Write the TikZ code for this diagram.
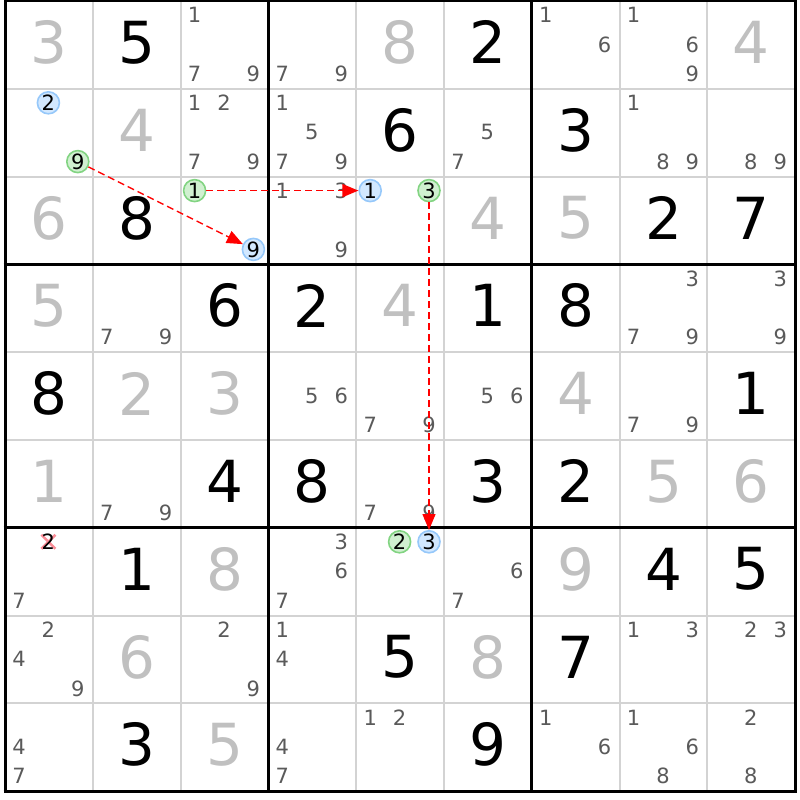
\documentclass[tikz,border=0pt]{standalone}
\usepackage{fontspec}
\setmainfont{DejaVu Sans}
\usepackage{xcolor}
\usepackage{tikz}
\usetikzlibrary{arrows.meta,calc}
\definecolor{solvedgray}{RGB}{192,192,192}
\definecolor{candgray}{RGB}{90,90,90}
\definecolor{gridgray}{RGB}{211,211,211}
\definecolor{blueline}{RGB}{150,200,250}
\definecolor{bluefill}{RGB}{210,232,255}
\definecolor{greenline}{RGB}{130,212,130}
\definecolor{greenfill}{RGB}{208,240,208}
\definecolor{crosspink}{RGB}{250,140,150}
\tikzstyle{given} = [font=\fontsize{58}{58}\selectfont, text=black, inner sep=0pt]
\tikzstyle{solved} = [given, text=solvedgray]
\tikzstyle{cand} = [font=\fontsize{21}{21}\selectfont, text=candgray, inner sep=0pt]
\tikzstyle{hlblue} = [cand, text=black, circle, draw=blueline, fill=bluefill,
    line width=1.6pt, minimum size=22pt]
\tikzstyle{hlgreen} = [hlblue, draw=greenline, fill=greenfill]
\tikzstyle{thingrid} = [gridgray, line width=2pt]
\tikzstyle{boxgrid} = [black, line width=3pt]
\tikzstyle{link} = [-{Triangle[length=16pt,width=13pt]}, red, line width=1.4pt,
    dash pattern=on 7pt off 4pt]
\newcommand{\givennum}[3]{\node[given] (r#1c#2) at ({5+(#2-0.5)*87.8},{1+(#1-0.5)*87.8-2.5}) {#3};}
\newcommand{\solvednum}[3]{\node[solved] (r#1c#2) at ({5+(#2-0.5)*87.8},{1+(#1-0.5)*87.8-2.5}) {#3};}
\newcommand{\candnums}[3]{\foreach \n in {#3}{\node[cand] (r#1c#2n\n) at ({5+(#2-1)*87.8+14+mod(\n-1,3)*29.4},{1+(#1-1)*87.8+14+floor((\n-1)/3)*29.4}) {\n};}}
\newcommand{\hicand}[4]{\node[#4] (r#1c#2n#3) at ({5+(#2-1)*87.8+14+mod(#3-1,3)*29.4},{1+(#1-1)*87.8+14+floor((#3-1)/3)*29.4}) {#3};}
\begin{document}
\begin{tikzpicture}[x=1pt,y=-1pt]
	\useasboundingbox (0,0) rectangle (800,800);
	\fill[white] (0,0) rectangle (800,800);
	
	\foreach \i in {1,2,4,5,7,8}{
		\draw[thingrid] ({5+\i*87.8},1) -- ({5+\i*87.8},{1+9*87.8});
		\draw[thingrid] (5,{1+\i*87.8}) -- ({5+9*87.8},{1+\i*87.8});
	}
	\foreach \i in {0,3,6,9}{
		\draw[boxgrid] ({5+\i*87.8},-0.5) -- ({5+\i*87.8},{2.5+9*87.8});
		\draw[boxgrid] (3.5,{1+\i*87.8}) -- ({6.5+9*87.8},{1+\i*87.8});
	}
	
	\solvednum{1}{1}{3} \givennum{1}{2}{5} \candnums{1}{3}{1,7,9}
	\candnums{1}{4}{7,9} \solvednum{1}{5}{8} \givennum{1}{6}{2}
	\candnums{1}{7}{1,6} \candnums{1}{8}{1,6,9} \solvednum{1}{9}{4}
	
	\hicand{2}{1}{2}{hlblue} \hicand{2}{1}{9}{hlgreen} \solvednum{2}{2}{4}
	\candnums{2}{3}{1,2,7,9} \candnums{2}{4}{1,5,7,9} \givennum{2}{5}{6}
	\candnums{2}{6}{5,7} \givennum{2}{7}{3} \candnums{2}{8}{1,8,9} \candnums{2}{9}{8,9}
	
	\solvednum{3}{1}{6} \givennum{3}{2}{8} \hicand{3}{3}{1}{hlgreen} \hicand{3}{3}{9}{hlblue}
	\candnums{3}{4}{1,3,9} \hicand{3}{5}{1}{hlblue} \hicand{3}{5}{3}{hlgreen}
	\solvednum{3}{6}{4} \solvednum{3}{7}{5} \givennum{3}{8}{2} \givennum{3}{9}{7}
	
	\solvednum{4}{1}{5} \candnums{4}{2}{7,9} \givennum{4}{3}{6}
	\givennum{4}{4}{2} \solvednum{4}{5}{4} \givennum{4}{6}{1}
	\givennum{4}{7}{8} \candnums{4}{8}{3,7,9} \candnums{4}{9}{3,9}
	
	\givennum{5}{1}{8} \solvednum{5}{2}{2} \solvednum{5}{3}{3}
	\candnums{5}{4}{5,6} \candnums{5}{5}{7,9} \candnums{5}{6}{5,6}
	\solvednum{5}{7}{4} \candnums{5}{8}{7,9} \givennum{5}{9}{1}
	
	\solvednum{6}{1}{1} \candnums{6}{2}{7,9} \givennum{6}{3}{4}
	\givennum{6}{4}{8} \candnums{6}{5}{7,9} \givennum{6}{6}{3}
	\givennum{6}{7}{2} \solvednum{6}{8}{5} \solvednum{6}{9}{6}
	
	\candnums{7}{1}{7}
	\coordinate (cross) at ({5+14+29.4},{1+6*87.8+14});
	\draw[crosspink, line width=2.6pt] ($(cross)+(-7,-7)$) -- ($(cross)+(7,7)$);
	\draw[crosspink, line width=2.6pt] ($(cross)+(7,-7)$) -- ($(cross)+(-7,7)$);
	\node[cand, text=black] (r7c1n2) at (cross) {2};
	\givennum{7}{2}{1} \solvednum{7}{3}{8} \candnums{7}{4}{3,6,7}
	\hicand{7}{5}{2}{hlgreen} \hicand{7}{5}{3}{hlblue} \candnums{7}{6}{6,7}
	\solvednum{7}{7}{9} \givennum{7}{8}{4} \givennum{7}{9}{5}
	
	\candnums{8}{1}{2,4,9} \solvednum{8}{2}{6} \candnums{8}{3}{2,9}
	\candnums{8}{4}{1,4} \givennum{8}{5}{5} \solvednum{8}{6}{8}
	\givennum{8}{7}{7} \candnums{8}{8}{1,3} \candnums{8}{9}{2,3}
	
	\candnums{9}{1}{4,7} \givennum{9}{2}{3} \solvednum{9}{3}{5}
	\candnums{9}{4}{4,7} \candnums{9}{5}{1,2} \givennum{9}{6}{9}
	\candnums{9}{7}{1,6} \candnums{9}{8}{1,6,8} \candnums{9}{9}{2,8}
	
	\draw[link] (r2c1n9) -- (r3c3n9);
	\draw[link] (r3c3n1) -- (r3c5n1);
	\draw[link] (r3c5n3) -- (r7c5n3);
\end{tikzpicture}
\end{document}
